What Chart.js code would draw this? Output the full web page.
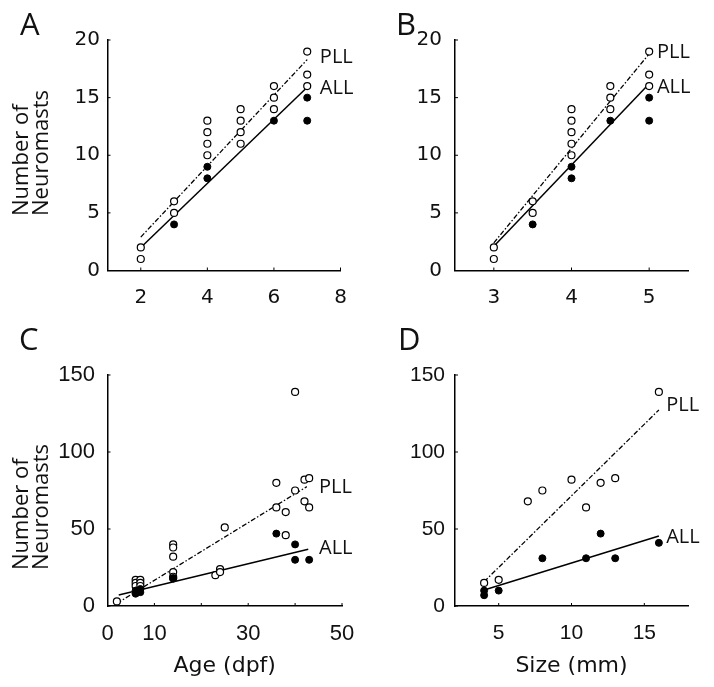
<!DOCTYPE html>
<html>
<head>
<meta charset="utf-8">
<script src="https://cdn.jsdelivr.net/npm/chart.js@4.4.1/dist/chart.umd.min.js"></script>
<style>
  html, body { margin: 0; padding: 0; background: #fff; }
  #wrap { position: relative; width: 714px; height: 687px; }
  #wrap canvas { position: absolute; left: 0; top: 0; }
</style>
</head>
<body>
<div id="wrap">
  <canvas id="cA" width="714" height="687"></canvas>
  <canvas id="cB" width="714" height="687"></canvas>
  <canvas id="cC" width="714" height="687"></canvas>
  <canvas id="cD" width="714" height="687"></canvas>
</div>
<script>
// --- data ---
// A: neuromasts vs age (2-7 dpf)
const aOpenX = [2, 2, 3, 3, 4, 4, 4, 4, 5, 5, 5, 5, 6, 6, 6, 7, 7, 7];
const aOpenY = [2, 1, 6, 5, 13, 12, 11, 10, 14, 13, 12, 11, 16, 15, 14, 19, 17, 16];
const aFillX = [3, 4, 4, 6, 7, 7];
const aFillY = [4, 9, 8, 13, 15, 13];
const aPllFitX = [2, 7];
const aPllFitY = [2.9, 18.3];
const aAllFitX = [2, 7];
const aAllFitY = [2.0, 15.9];

// B: neuromasts vs size (3-5 mm)
const bOpenX = [3, 3, 3.5, 3.5, 4, 4, 4, 4, 4, 4.5, 4.5, 4.5, 5, 5, 5];
const bOpenY = [2, 1, 6, 5, 14, 13, 12, 11, 10, 16, 15, 14, 19, 17, 16];
const bFillX = [3.5, 4, 4, 4.5, 5, 5];
const bFillY = [4, 9, 8, 13, 15, 13];
const bPllFitX = [3, 5];
const bPllFitY = [2.4, 18.8];
const bAllFitX = [3, 5];
const bAllFitY = [2.1, 16.2];

// C: neuromasts vs age (up to 43 dpf)
const cOpenX = [2, 6, 6, 6, 7, 7, 7, 14, 14, 14, 14, 14, 14, 23, 24, 24, 25, 36, 36, 38, 38, 40, 40, 42, 42, 43, 43];
const cOpenY = [3, 17, 15, 13, 17, 15, 13, 40, 38, 32, 22, 19, 18, 20, 24, 22, 51, 80, 64, 61, 46, 139, 75, 82, 68, 83, 64];
const cFillX = [6, 6, 7, 7, 14, 36, 40, 40, 43];
const cFillY = [8, 10, 9, 11, 18, 47, 40, 30, 30];
const cPllFitX = [2, 42.5];
const cPllFitY = [1.7, 77.5];
const cAllFitX = [2.4, 42.8];
const cAllFitY = [7.1, 36.8];

// D: neuromasts vs size (up to 16 mm)
const dOpenX = [4, 5, 7, 8, 10, 11, 12, 13, 16];
const dOpenY = [15, 17, 68, 75, 82, 64, 80, 83, 139];
const dFillX = [4, 4, 5, 8, 11, 12, 13, 16];
const dFillY = [10, 7, 10, 31, 31, 47, 31, 41];
const dPllFitX = [4, 16];
const dPllFitY = [15.8, 127.3];
const dAllFitX = [4, 16];
const dAllFitY = [10.4, 45.4];

// axis ticks
const aXTicks = [2, 4, 6, 8];
const bXTicks = [3, 4, 5];
const cXTicks = [0, 10, 20, 30, 40, 50];
const cXLabels = [0, 10, 30, 50];
const dXTicks = [5, 10, 15];
const smallYTicks = [0, 5, 10, 15, 20];
const bigYTicks = [0, 50, 100, 150];

const INK = '#111';
const pts = (xs, ys) => xs.map((x, i) => ({ x, y: ys[i] }));

// inward tick marks, y title, PLL/ALL tags and panel letter
const deco = {
  id: 'deco',
  afterDraw(chart, args, opts) {
    const ctx = chart.ctx;
    const x = chart.scales.x, y = chart.scales.y;
    ctx.save();
    ctx.strokeStyle = '#000';
    ctx.lineWidth = 1;
    x.ticks.forEach(t => {
      const px = x.getPixelForValue(t.value);
      ctx.beginPath(); ctx.moveTo(px, y.bottom); ctx.lineTo(px, y.bottom - 3); ctx.stroke();
    });
    y.ticks.forEach(t => {
      const py = y.getPixelForValue(t.value);
      ctx.beginPath(); ctx.moveTo(x.left, py); ctx.lineTo(x.left + 3, py); ctx.stroke();
    });
    ctx.fillStyle = INK;
    ctx.textAlign = 'left';
    if (opts.yTitle) {
      ctx.font = '22px "Open Sans"';
      ctx.textBaseline = 'alphabetic';
      opts.yTitle.lines.forEach((line, i) => {
        ctx.save();
        ctx.translate(opts.yTitle.x + i * 20, opts.yTitle.y);
        ctx.rotate(-Math.PI / 2);
        ctx.fillText(line, 0, 0);
        ctx.restore();
      });
    }
    ctx.font = '20px "Open Sans"';
    ctx.textBaseline = 'middle';
    opts.tags.forEach(t => {
      ctx.fillText(t.text, x.getPixelForValue(t.x), y.getPixelForValue(t.y));
    });
    ctx.font = '31px "Open Sans"';
    ctx.textBaseline = 'alphabetic';
    ctx.fillText(opts.letter, opts.lx, opts.ly);
    ctx.restore();
  }
};

function panel(id, p) {
  const xTitle = p.xTitle
    ? { display: true, text: p.xTitle, color: INK,
        font: { family: '"DejaVu Sans"', size: 22, lineHeight: 1.0 }, padding: { top: 0, bottom: 0 } }
    : { display: false };
  const area = p.area;
  return new Chart(document.getElementById(id), {
    type: 'scatter',
    data: {
      datasets: [
        { data: pts(p.fillX, p.fillY), pointRadius: 3.5, pointBackgroundColor: '#000',
          pointBorderColor: '#000', pointBorderWidth: 1, order: 0 },
        { data: pts(p.openX, p.openY), pointRadius: 3.5, pointBackgroundColor: '#fff',
          pointBorderColor: '#000', pointBorderWidth: 1.2, order: 1 },
        { data: pts(p.pllX, p.pllY), showLine: true, pointRadius: 0, borderColor: '#000',
          borderWidth: 1.3, borderDash: [5, 2, 1.5, 2], order: 2 },
        { data: pts(p.allX, p.allY), showLine: true, pointRadius: 0, borderColor: '#000',
          borderWidth: 1.5, order: 3 }
      ]
    },
    options: {
      responsive: false,
      animation: false,
      events: [],
      layout: {
        padding: { left: area.left - p.yw, top: area.top, right: 714 - area.right, bottom: 687 - area.bottom - p.xh }
      },
      scales: {
        x: {
          type: 'linear', min: p.xMin, max: p.xMax,
          afterBuildTicks: s => { s.ticks = p.xTicks.map(v => ({ value: v })); },
          afterFit: s => { s.height = p.xh; },
          grid: { display: false, drawTicks: false },
          border: { display: true, color: '#000', width: 1.5 },
          ticks: { font: p.tickFont, color: INK, padding: p.xPad, autoSkip: false, maxRotation: 0,
                   callback: v => (p.xLabels.includes(v) ? String(v) : '') },
          title: xTitle
        },
        y: {
          type: 'linear', min: p.yMin, max: p.yMax,
          afterBuildTicks: s => { s.ticks = p.yTicks.map(v => ({ value: v })); },
          afterFit: s => { s.width = p.yw; },
          grid: { display: false, drawTicks: false },
          border: { display: true, color: '#000', width: 1.5 },
          ticks: { font: p.tickFont, color: INK, padding: p.yPad, autoSkip: false, callback: v => String(v) },
          title: { display: false }
        }
      },
      plugins: {
        legend: { display: false },
        tooltip: { enabled: false },
        deco: { letter: p.letter, lx: p.lx, ly: p.ly, tags: p.tags, yTitle: p.yTitle }
      }
    },
    plugins: [deco]
  });
}

const yTitleLines = ['Number of', 'Neuromasts'];

panel('cA', {
  area: { left: 107.5, right: 340.5, top: 40, bottom: 270.5 }, yw: 100, xh: 70,
  tickFont: { family: '"DejaVu Sans"', size: 20 }, xPad: 15, yPad: 7.5,
  xMin: 1, xMax: 8, xTicks: aXTicks, xLabels: aXTicks, yMin: 0, yMax: 20, yTicks: smallYTicks,
  openX: aOpenX, openY: aOpenY, fillX: aFillX, fillY: aFillY,
  pllX: aPllFitX, pllY: aPllFitY, allX: aAllFitX, allY: aAllFitY,
  yTitle: { lines: yTitleLines, x: 28, y: 216 }, letter: 'A', lx: 20, ly: 35,
  tags: [{ text: 'PLL', x: 7.38, y: 18.5 }, { text: 'ALL', x: 7.38, y: 15.8 }]
});

panel('cB', {
  area: { left: 455, right: 688, top: 40, bottom: 270.5 }, yw: 60, xh: 70,
  tickFont: { family: '"DejaVu Sans"', size: 20 }, xPad: 15, yPad: 13,
  xMin: 2.5, xMax: 5.5, xTicks: bXTicks, xLabels: bXTicks, yMin: 0, yMax: 20, yTicks: smallYTicks,
  openX: bOpenX, openY: bOpenY, fillX: bFillX, fillY: bFillY,
  pllX: bPllFitX, pllY: bPllFitY, allX: bAllFitX, allY: bAllFitY,
  letter: 'B', lx: 396, ly: 35,
  tags: [{ text: 'PLL', x: 5.1, y: 18.96 }, { text: 'ALL', x: 5.1, y: 15.9 }]
});

panel('cC', {
  area: { left: 107.5, right: 342, top: 375, bottom: 606 }, yw: 100, xh: 71,
  tickFont: { family: '"Liberation Sans"', size: 22 }, xPad: 15, yPad: 12.5,
  xMin: 0, xMax: 50, xTicks: cXTicks, xLabels: cXLabels, yMin: 0, yMax: 150, yTicks: bigYTicks,
  openX: cOpenX, openY: cOpenY, fillX: cFillX, fillY: cFillY,
  pllX: cPllFitX, pllY: cPllFitY, allX: cAllFitX, allY: cAllFitY,
  yTitle: { lines: yTitleLines, x: 28, y: 570 }, xTitle: 'Age (dpf)', letter: 'C', lx: 19, ly: 350,
  tags: [{ text: 'PLL', x: 45.1, y: 77.3 }, { text: 'ALL', x: 45.1, y: 37.7 }]
});

panel('cD', {
  area: { left: 455, right: 688, top: 375, bottom: 606 }, yw: 60, xh: 71,
  tickFont: { family: '"Liberation Sans"', size: 21 }, xPad: 15, yPad: 10,
  xMin: 2, xMax: 18, xTicks: dXTicks, xLabels: dXTicks, yMin: 0, yMax: 150, yTicks: bigYTicks,
  openX: dOpenX, openY: dOpenY, fillX: dFillX, fillY: dFillY,
  pllX: dPllFitX, pllY: dPllFitY, allX: dAllFitX, allY: dAllFitY,
  xTitle: 'Size (mm)', letter: 'D', lx: 398, ly: 350,
  tags: [{ text: 'PLL', x: 16.5, y: 130.5 }, { text: 'ALL', x: 16.5, y: 44.8 }]
});
</script>
</body>
</html>
